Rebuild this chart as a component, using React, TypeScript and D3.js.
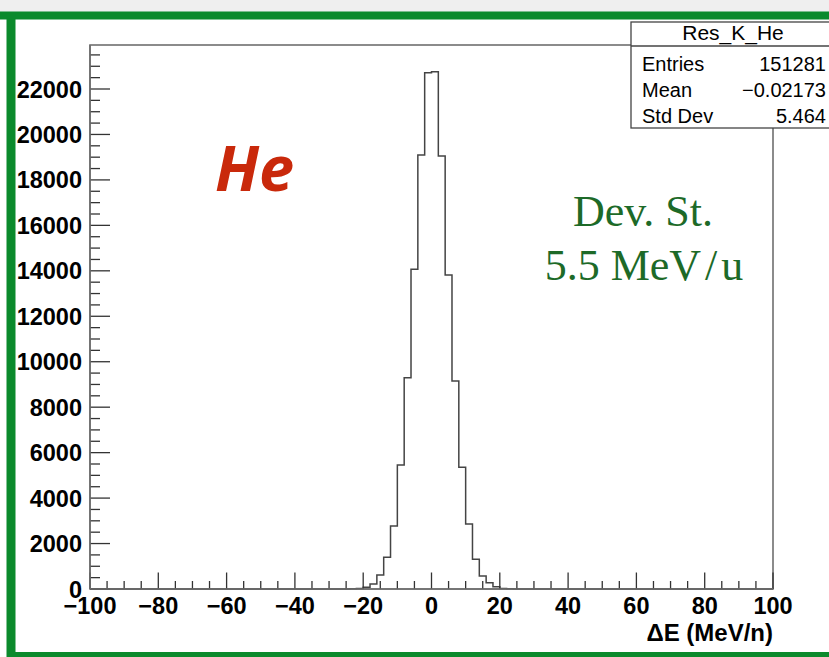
import React from "react";
import * as d3 from "d3";

const W = 829;
const H = 657;

// Histogram: bins of width 2 MeV/n from -100 to 100; only non-empty bins listed (low edges)
const binWidth = 2;
const binLows = [-26, -24, -22, -20, -18, -16, -14, -12, -10, -8, -6, -4, -2, 0, 2, 4, 6, 8, 10, 12, 14, 16, 18, 20, 22, 24];
const binCounts = [3, 8, 22, 75, 220, 616, 1395, 2772, 5455, 9297, 14065, 19094, 22716, 22760, 19050, 13814, 9151, 5354, 2860, 1307, 572, 277, 100, 25, 8, 3];

const xMajorTicks = [-100, -80, -60, -40, -20, 0, 20, 40, 60, 80, 100];
const yMajorTicks = [0, 2000, 4000, 6000, 8000, 10000, 12000, 14000, 16000, 18000, 20000, 22000];

const statsTitle = "Res_K_He";
const statsLabels = ["Entries", "Mean", "Std Dev"];
const statsValues = ["151281", "\u22120.02173", "5.464"];

const xTitle = "\u0394E (MeV/n)";

export default function App() {
  const left = 90, right = 773, top = 45, bottom = 589;
  const x = d3.scaleLinear().domain([-100, 100]).range([left, right]);
  const y = d3.scaleLinear().domain([0, 23936]).range([bottom, top]);

  // step outline (ROOT-style histogram), no drops between adjacent bins
  const pts: [number, number][] = [];
  pts.push([-100, 0]);
  pts.push([binLows[0], 0]);
  binLows.forEach((lo, i) => {
    pts.push([lo, binCounts[i]]);
    pts.push([lo + binWidth, binCounts[i]]);
  });
  pts.push([binLows[binLows.length - 1] + binWidth, 0]);
  pts.push([100, 0]);
  const line = d3.line<[number, number]>().x((d) => x(d[0])).y((d) => y(d[1]));
  const histPath = line(pts) || "";

  const xMinor = d3.range(-100, 100.1, 5).filter((v) => Math.round(v) % 20 !== 0);
  const yMinor = d3.range(0, 23936, 500).filter((v) => v % 2000 !== 0);

  const fmt = (v: number) => (v < 0 ? "\u2212" + Math.abs(v) : String(v));

  const sans = "'Liberation Sans', Arial, Helvetica, sans-serif";

  return (
    <svg width={W} height={H} style={{ position: "absolute", left: 0, top: 0, background: "#fff" }}>
      {/* background strip */}
      <rect x={0} y={0} width={W} height={13} fill="#efefef" />
      {/* green hand-drawn border */}
      <line x1={0} x2={W} y1={15.5} y2={15.5} stroke="#0b8a2c" strokeWidth={8} />
      <line x1={11} x2={11} y1={12} y2={657} stroke="#0b8a2c" strokeWidth={9} />
      <line x1={8} x2={W} y1={655} y2={655} stroke="#0b8a2c" strokeWidth={6} />

      {/* frame */}
      <rect x={left} y={top} width={right - left} height={bottom - top} fill="none" stroke="#6f6f6f" strokeWidth={1.6} />

      {/* histogram */}
      <path d={histPath} fill="none" stroke="#444" strokeWidth={1.5} />

      {/* x ticks */}
      {xMajorTicks.map((v) => (
        <line key={"xM" + v} x1={x(v)} x2={x(v)} y1={bottom} y2={bottom - 16.5} stroke="#333" strokeWidth={1.3} />
      ))}
      {xMinor.map((v) => (
        <line key={"xm" + v} x1={x(v)} x2={x(v)} y1={bottom} y2={bottom - 8} stroke="#333" strokeWidth={1.3} />
      ))}
      {/* y ticks */}
      {yMajorTicks.map((v) => (
        <line key={"yM" + v} x1={left} x2={left + 20} y1={y(v)} y2={y(v)} stroke="#333" strokeWidth={1.3} />
      ))}
      {yMinor.map((v) => (
        <line key={"ym" + v} x1={left} x2={left + 10} y1={y(v)} y2={y(v)} stroke="#333" strokeWidth={1.3} />
      ))}
      {/* redraw axes lines */}
      <line x1={left} x2={right} y1={bottom} y2={bottom} stroke="#6f6f6f" strokeWidth={1.6} />
      <line x1={left} x2={left} y1={top} y2={bottom} stroke="#6f6f6f" strokeWidth={1.6} />

      {/* y labels */}
      {yMajorTicks.map((v) => (
        <text key={"yl" + v} x={82} y={y(v) + 8.5} textAnchor="end" fontFamily={sans} fontWeight="bold" fontSize={23.5} fill="#000">
          {fmt(v)}
        </text>
      ))}
      {/* x labels */}
      {xMajorTicks.map((v) => (
        <text key={"xl" + v} x={x(v)} y={614} textAnchor="middle" fontFamily={sans} fontWeight="bold" fontSize={23.5} fill="#000">
          {fmt(v)}
        </text>
      ))}
      <text x={right} y={641} textAnchor="end" fontFamily={sans} fontWeight="bold" fontSize={24} fill="#000">
        {xTitle}
      </text>

      {/* stats box */}
      <rect x={631} y={22} width={220} height={106} fill="#fff" stroke="#444" strokeWidth={1.3} />
      <line x1={631} x2={W} y1={46} y2={46} stroke="#444" strokeWidth={1.3} />
      <text x={733} y={40} textAnchor="middle" fontFamily={sans} fontSize={21} fill="#000">
        {statsTitle}
      </text>
      {statsLabels.map((l, i) => (
        <text key={"sl" + i} x={642} y={71 + i * 26} fontFamily={sans} fontSize={20} fill="#000">
          {l}
        </text>
      ))}
      {statsValues.map((v, i) => (
        <text key={"sv" + i} x={826} y={71 + i * 26} textAnchor="end" fontFamily={sans} fontSize={20} fill="#000">
          {v}
        </text>
      ))}

      {/* annotations */}
      <text x={215} y={191} fontFamily="'Open Sans', sans-serif" fontWeight="bold" fontStyle="italic" fontSize={63} fill="#c9290b">
        He
      </text>
      <text x={643} y={226} textAnchor="middle" fontFamily="'Liberation Serif', 'DejaVu Serif', serif" fontSize={44} fill="#1d6a28">
        Dev. St.
      </text>
      <text x={644} y={280} textAnchor="middle" fontFamily="'Liberation Serif', 'DejaVu Serif', serif" fontSize={44} fill="#1d6a28">
        <tspan>5.5 MeV</tspan>
        <tspan dx={4}>/</tspan>
        <tspan dx={4}>u</tspan>
      </text>
    </svg>
  );
}
